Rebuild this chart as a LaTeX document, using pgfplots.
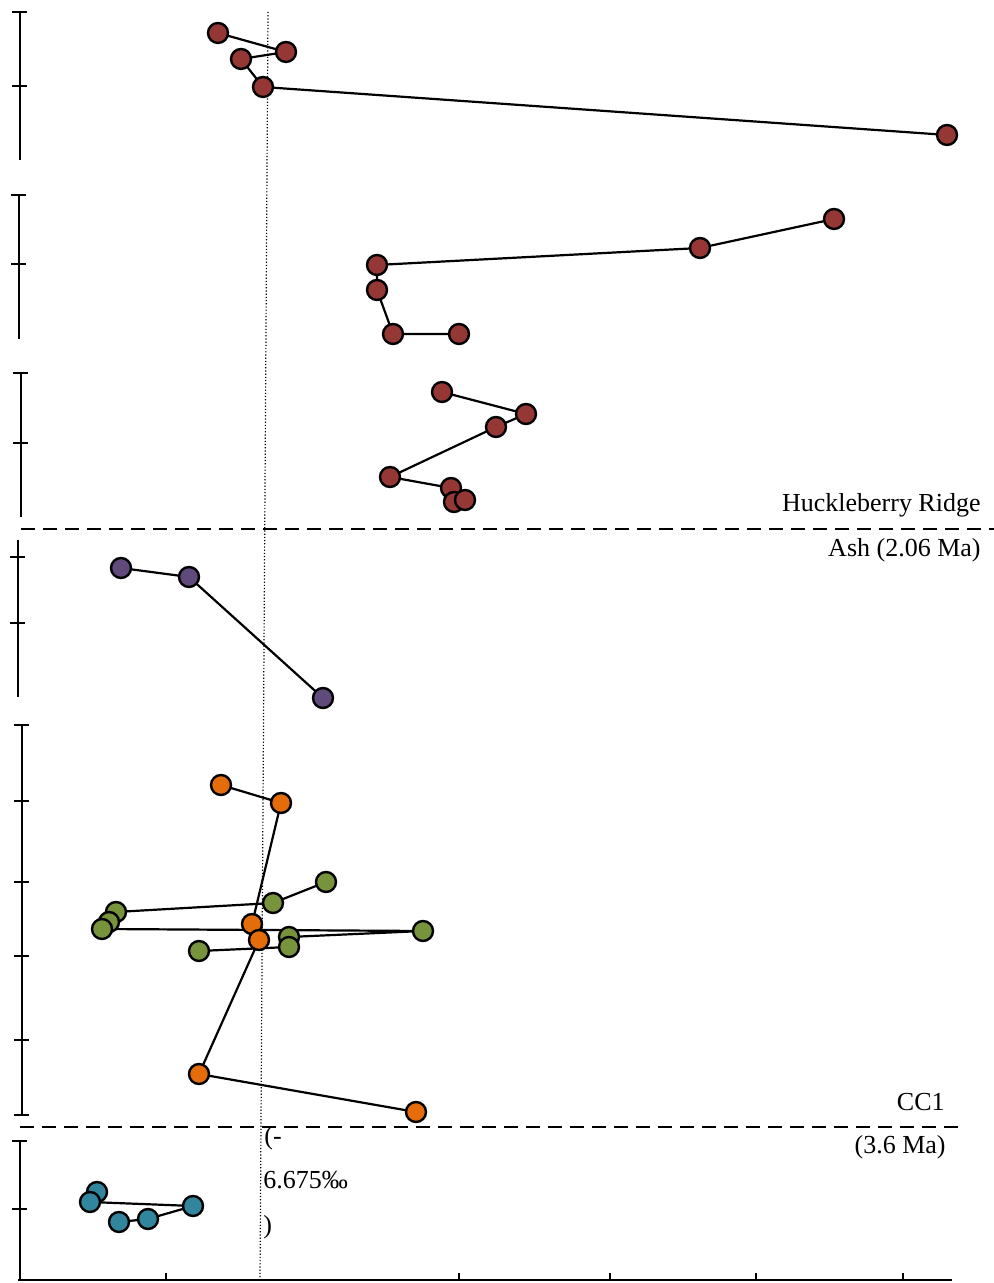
\documentclass[border=0pt]{standalone}
\usepackage{fontspec}
\setmainfont{Liberation Serif}
\usepackage{pgfplots}
\pgfplotsset{compat=1.18}
\definecolor{cRed}{HTML}{953735}
\definecolor{cPurple}{HTML}{604A7B}
\definecolor{cGreen}{HTML}{77933C}
\definecolor{cOrange}{HTML}{E46C0A}
\definecolor{cTeal}{HTML}{31859C}
\tikzset{lbl/.style={inner sep=0pt, font=\fontsize{13}{15}\selectfont}}
\begin{document}
\begin{tikzpicture}
\begin{axis}[
  scale only axis, width=467pt, height=640pt,
  xmin=18, xmax=952, ymin=0, ymax=1280,
  axis x line*=bottom, hide y axis,
  x axis line style={-, line width=0.9pt},
  xtick={166,459,610,756,903}, xticklabels={},
  xtick align=inside, major tick length=3.5pt,
  xtick style={line width=0.9pt, black},
  ytick=\empty,
  clip=false,
  pt/.style={black, line width=1.1pt, mark=*, mark size=5pt,
    mark options={fill=#1, draw=black, solid, line width=1.2pt}},
]
% reference lines
\addplot[black, line width=1.1pt, dash pattern=on 7pt off 4pt, no marks] coordinates {(21,751) (994,751)};
\addplot[black, line width=1.1pt, dash pattern=on 7pt off 4pt, no marks] coordinates {(20,153) (958,153)};
% series
\addplot[pt=cRed] coordinates {(218,1247) (286,1228) (241,1221) (263,1193) (947,1145)};
\addplot[pt=cRed] coordinates {(834,1061) (700,1032) (377,1015) (377,990) (393,946) (459,946)};
\addplot[pt=cRed] coordinates {(442,888) (526,866) (496,853) (390,803) (451,792) (454,778) (465,780)};
\addplot[pt=cPurple] coordinates {(121,712) (189,703) (323,582)};
\addplot[pt=cGreen] coordinates {(326,398) (273,377) (116,368) (109,358) (102,351) (423,349) (289,343) (289,333) (199,329)};
\addplot[pt=cOrange] coordinates {(221,495) (281,477) (252,356) (259,340) (199,206) (416,168)};
\addplot[pt=cTeal] coordinates {(97,88) (90,78) (193,74) (148,61) (119,58)};
% dotted reference
\addplot[black, line width=0.6pt, dash pattern=on 0.6pt off 1pt, no marks] coordinates {(268,1268) (260,0)};
% segmented depth axes
\draw[line width=0.9pt] (axis cs:20,1268) -- (axis cs:20,1120);
\draw[line width=0.9pt] (axis cs:12,1268) -- (axis cs:27,1268);
\draw[line width=0.9pt] (axis cs:12,1194) -- (axis cs:27,1194);
\draw[line width=0.9pt] (axis cs:19,1085) -- (axis cs:19,941);
\draw[line width=0.9pt] (axis cs:11,1085) -- (axis cs:26,1085);
\draw[line width=0.9pt] (axis cs:11,1016) -- (axis cs:26,1016);
\draw[line width=0.9pt] (axis cs:21,907) -- (axis cs:21,763);
\draw[line width=0.9pt] (axis cs:13,907) -- (axis cs:28,907);
\draw[line width=0.9pt] (axis cs:13,837) -- (axis cs:28,837);
\draw[line width=0.9pt] (axis cs:18,740) -- (axis cs:18,583);
\draw[line width=0.9pt] (axis cs:10,723) -- (axis cs:25,723);
\draw[line width=0.9pt] (axis cs:10,657) -- (axis cs:25,657);
\draw[line width=0.9pt] (axis cs:22,555) -- (axis cs:22,165);
\draw[line width=0.9pt] (axis cs:14,555) -- (axis cs:29,555);
\draw[line width=0.9pt] (axis cs:14,479) -- (axis cs:29,479);
\draw[line width=0.9pt] (axis cs:14,398) -- (axis cs:29,398);
\draw[line width=0.9pt] (axis cs:14,324) -- (axis cs:29,324);
\draw[line width=0.9pt] (axis cs:14,240) -- (axis cs:29,240);
\draw[line width=0.9pt] (axis cs:14,165) -- (axis cs:29,165);
\draw[line width=0.9pt] (axis cs:20,139) -- (axis cs:20,0);
\draw[line width=0.9pt] (axis cs:12,139) -- (axis cs:27,139);
\draw[line width=0.9pt] (axis cs:12,71) -- (axis cs:27,71);
% labels
\node[lbl, anchor=base east] at (axis cs:981,768) {Huckleberry Ridge};
\node[lbl, anchor=base east] at (axis cs:981,723) {Ash (2.06 Ma)};
\node[lbl, anchor=base east] at (axis cs:945,169) {CC1};
\node[lbl, anchor=base east] at (axis cs:946,126) {(3.6 Ma)};
\node[lbl, anchor=base west] at (axis cs:264,135) {(-};
\node[lbl, anchor=base west] at (axis cs:263,91) {6.675‰};
\node[lbl, anchor=base west] at (axis cs:263,47) {)};
\coordinate (bl) at (axis cs:0,-3);
\coordinate (tr) at (axis cs:994,1280);
\end{axis}
\pgfresetboundingbox
\path[use as bounding box] (bl) rectangle (tr);
\end{tikzpicture}
\end{document}
